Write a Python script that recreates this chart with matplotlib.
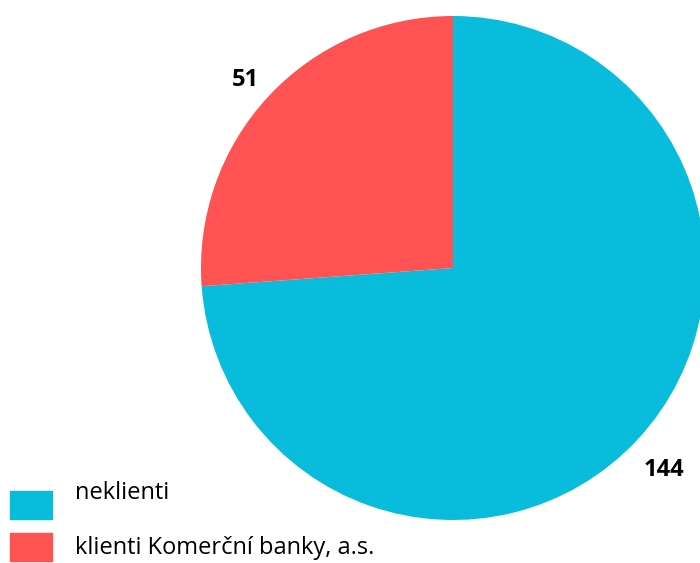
import matplotlib.pyplot as plt
from matplotlib.patches import Rectangle

labels = ["neklienti", "klienti Komerční banky, a.s."]
values = [144, 51]
colors = ["#0ABCDB", "#FF5252"]

W, H = 700, 563
fig = plt.figure(figsize=(W / 100, H / 100), dpi=100)
ax = fig.add_axes([0, 0, 1, 1])

wedges, _ = ax.pie(
    values,
    colors=colors,
    startangle=90,
    counterclock=False,
    center=(453, H - 268),
    radius=252,
    frame=True,
)
ax.set_xlim(0, W)
ax.set_ylim(0, H)
ax.set_aspect("equal")
ax.axis("off")

# value labels
font = "Open Sans"
ax.text(245, H - 80, str(values[1]), ha="center", va="center",
        fontsize=17, fontweight="bold", family=font)
ax.text(664, H - 470, str(values[0]), ha="center", va="center",
        fontsize=17, fontweight="bold", family=font)

# legend
for i, (lab, col) in enumerate(zip(labels, colors)):
    top = 491 + i * 42
    ax.add_patch(Rectangle((10, H - top - 28), 42, 28, color=col, clip_on=False))
    ax.text(75, H - (493 + i * 55), lab, ha="left", va="center",
            fontsize=17, family=font)

fig.savefig("out.png", dpi=100)
